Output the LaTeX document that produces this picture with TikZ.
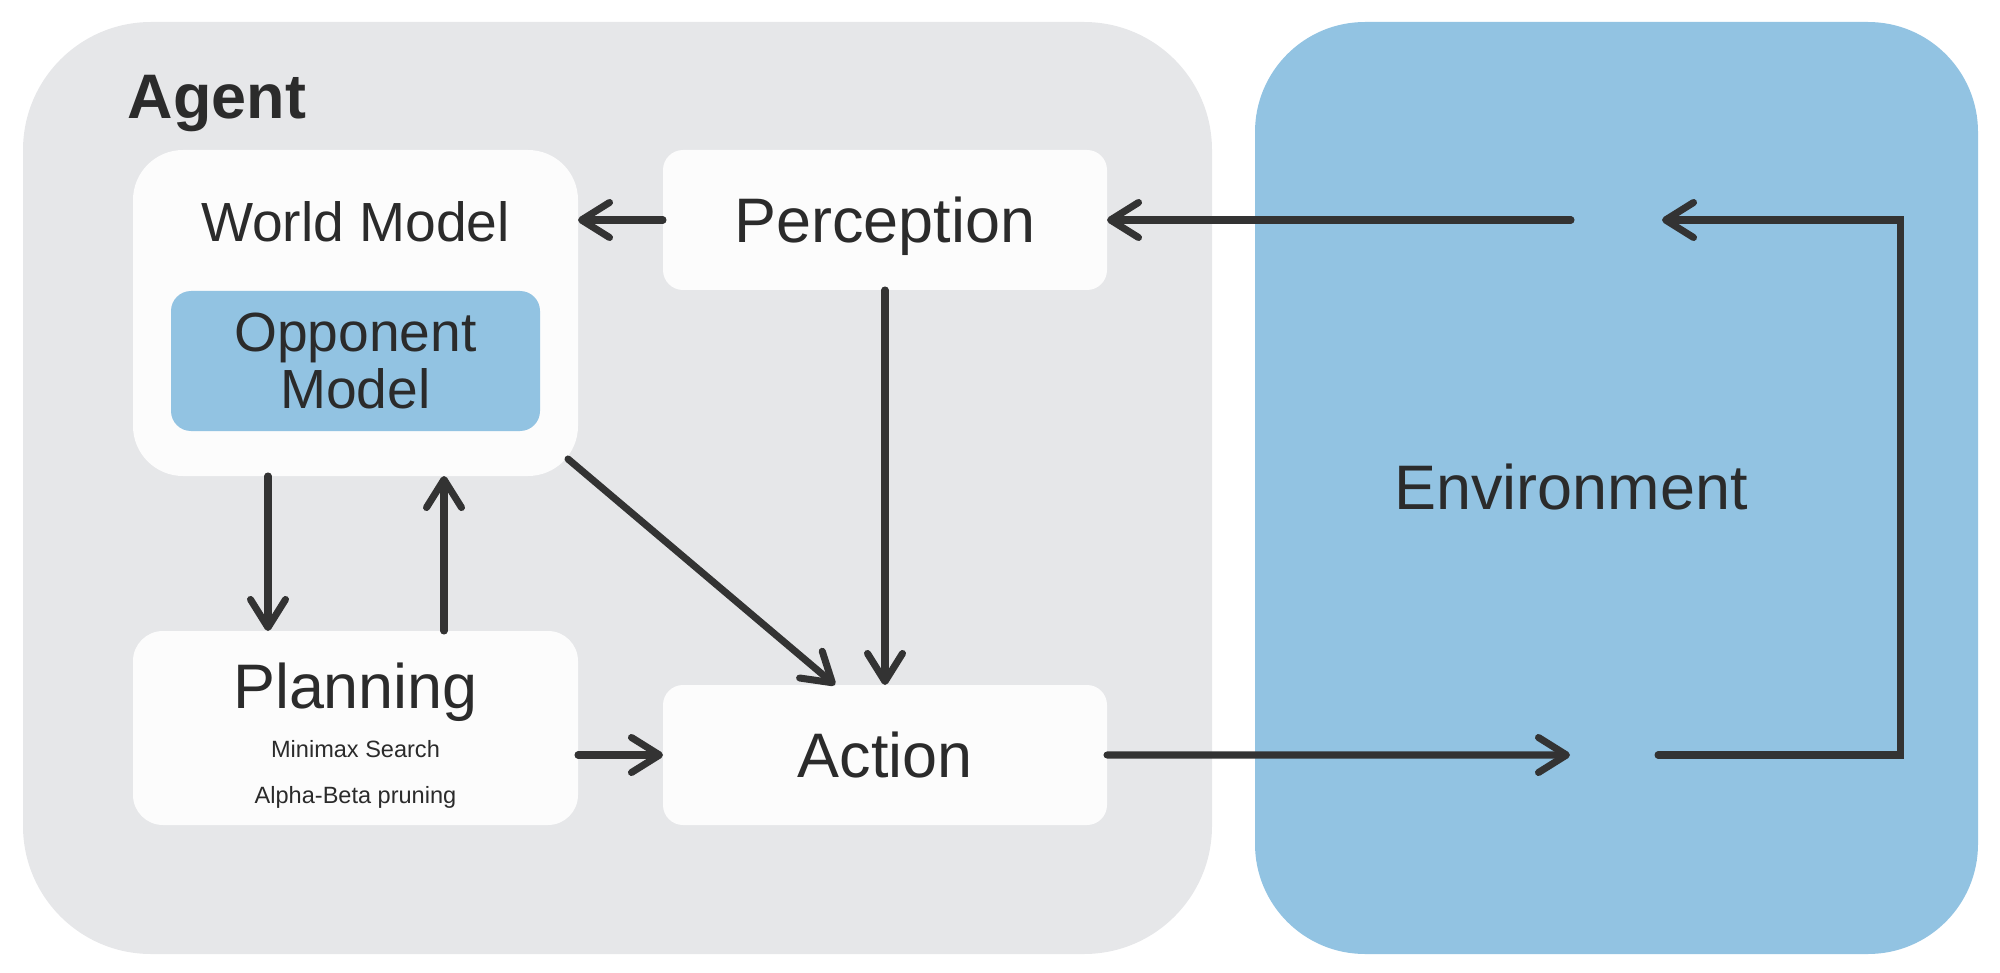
\documentclass[tikz,border=0pt]{standalone}
\usepackage{fontspec}
\setmainfont{Liberation Sans}
\usetikzlibrary{arrows.meta,positioning}

\definecolor{agentgray}{HTML}{E6E7E9}
\definecolor{envblue}{HTML}{92C3E2}
\definecolor{boxwhite}{HTML}{FCFCFC}
\definecolor{ink}{HTML}{333333}
\definecolor{textgray}{HTML}{2B2B2B}

\def\bigfont{\fontsize{17.9}{20}\selectfont}
\def\midfont{\fontsize{15.7}{16.5}\selectfont}
\def\smallfont{\fontsize{6.7}{8}\selectfont}

\begin{document}
\begin{tikzpicture}[->,draw=ink,text=textgray,line width=2pt,line cap=round,
	>={Straight Barb[length=2.8mm,width=3.5mm,round]}]
    \tikzstyle{every node}=[outer sep=0pt]
    \tikzstyle{panel}=[inner sep=0pt,minimum height=9.32cm]
    \tikzstyle{box}=[fill=boxwhite,rounded corners=2mm,inner sep=0pt,
        minimum width=4.44cm,minimum height=1.4cm,font=\bigfont,
        text height=12.8pt,text depth=0pt]
    \tikzstyle{wide box}=[box,minimum width=4.45cm]
    \tikzstyle{annot}=[anchor=base]

    \useasboundingbox (0,0) rectangle (20,9.72);

    % Draw the agent and the environment panels
    \node[panel,fill=agentgray,rounded corners=12.8mm,minimum width=11.89cm] (agent) at (6.175,4.84) {};
    \node[panel,fill=envblue,rounded corners=11mm,minimum width=7.23cm] (env) at (16.165,4.84) {};
    \node[annot,font=\bigfont\bfseries] (agentlabel) at (2.17,8.53) {Agent};
    \node[font=\bigfont,text height=12.8pt,text depth=0pt] (envlabel) at (15.71,4.845) {Environment};

    % Draw the world model with the opponent model inside
    \node[wide box,minimum height=3.26cm,rounded corners=5mm] (wm) at (3.555,6.59) {};
    \node[annot,font=\midfont] (wmlabel) at (3.555,7.30) {World Model};
    \node[fill=envblue,rounded corners=2mm,inner sep=0pt,minimum width=3.69cm,
        minimum height=1.4cm,font=\midfont,align=center] (opp) at (3.555,6.11) {Opponent\\Model};

    % Draw perception, action and planning
    \node[box] (perc) at (8.85,7.52) {Perception};
    \node[box,below=3.95cm of perc] (act) {Action};
    \node[wide box,minimum height=1.94cm,rounded corners=3mm,below=1.55cm of wm] (plan) {};
    \node[annot,font=\bigfont] (planlabel) at (3.555,2.64) {Planning};
    \node[annot,font=\smallfont] (minimax) at (3.555,2.15) {Minimax Search};
    \node[annot,font=\smallfont] (alphabeta) at (3.555,1.69) {Alpha-Beta pruning};

    % Free ends of the connectors in the environment
    \coordinate (envin) at (15.70,2.17);
    \coordinate (envout) at (16.58,2.17);
    \coordinate (envturn) at (19.00,2.17);
    \coordinate (envback) at (16.62,7.52);
    \coordinate (envemit) at (15.71,7.52);

    % Connect the agent's parts
    \draw (perc.west) -- (perc.west -| wm.east);
    \draw (perc.south) -- (act.north);
    \draw ([shift={(-0.1,0.17)}]wm.south east) -- ([xshift=-5mm]act.north);
    \draw ([xshift=-8.75mm]wm.south) -- ([xshift=-8.75mm]plan.north);
    \draw ([xshift=8.85mm]plan.north) -- ([xshift=8.85mm]wm.south);
    \draw (act.west -| plan.east) -- (act.west);

    % Connect the agent with the environment
    \draw (act.east) -- (envin);
    \draw (envout) -- (envturn) |- (envback);
    \draw (envemit) -- (perc.east);
\end{tikzpicture}
\end{document}
